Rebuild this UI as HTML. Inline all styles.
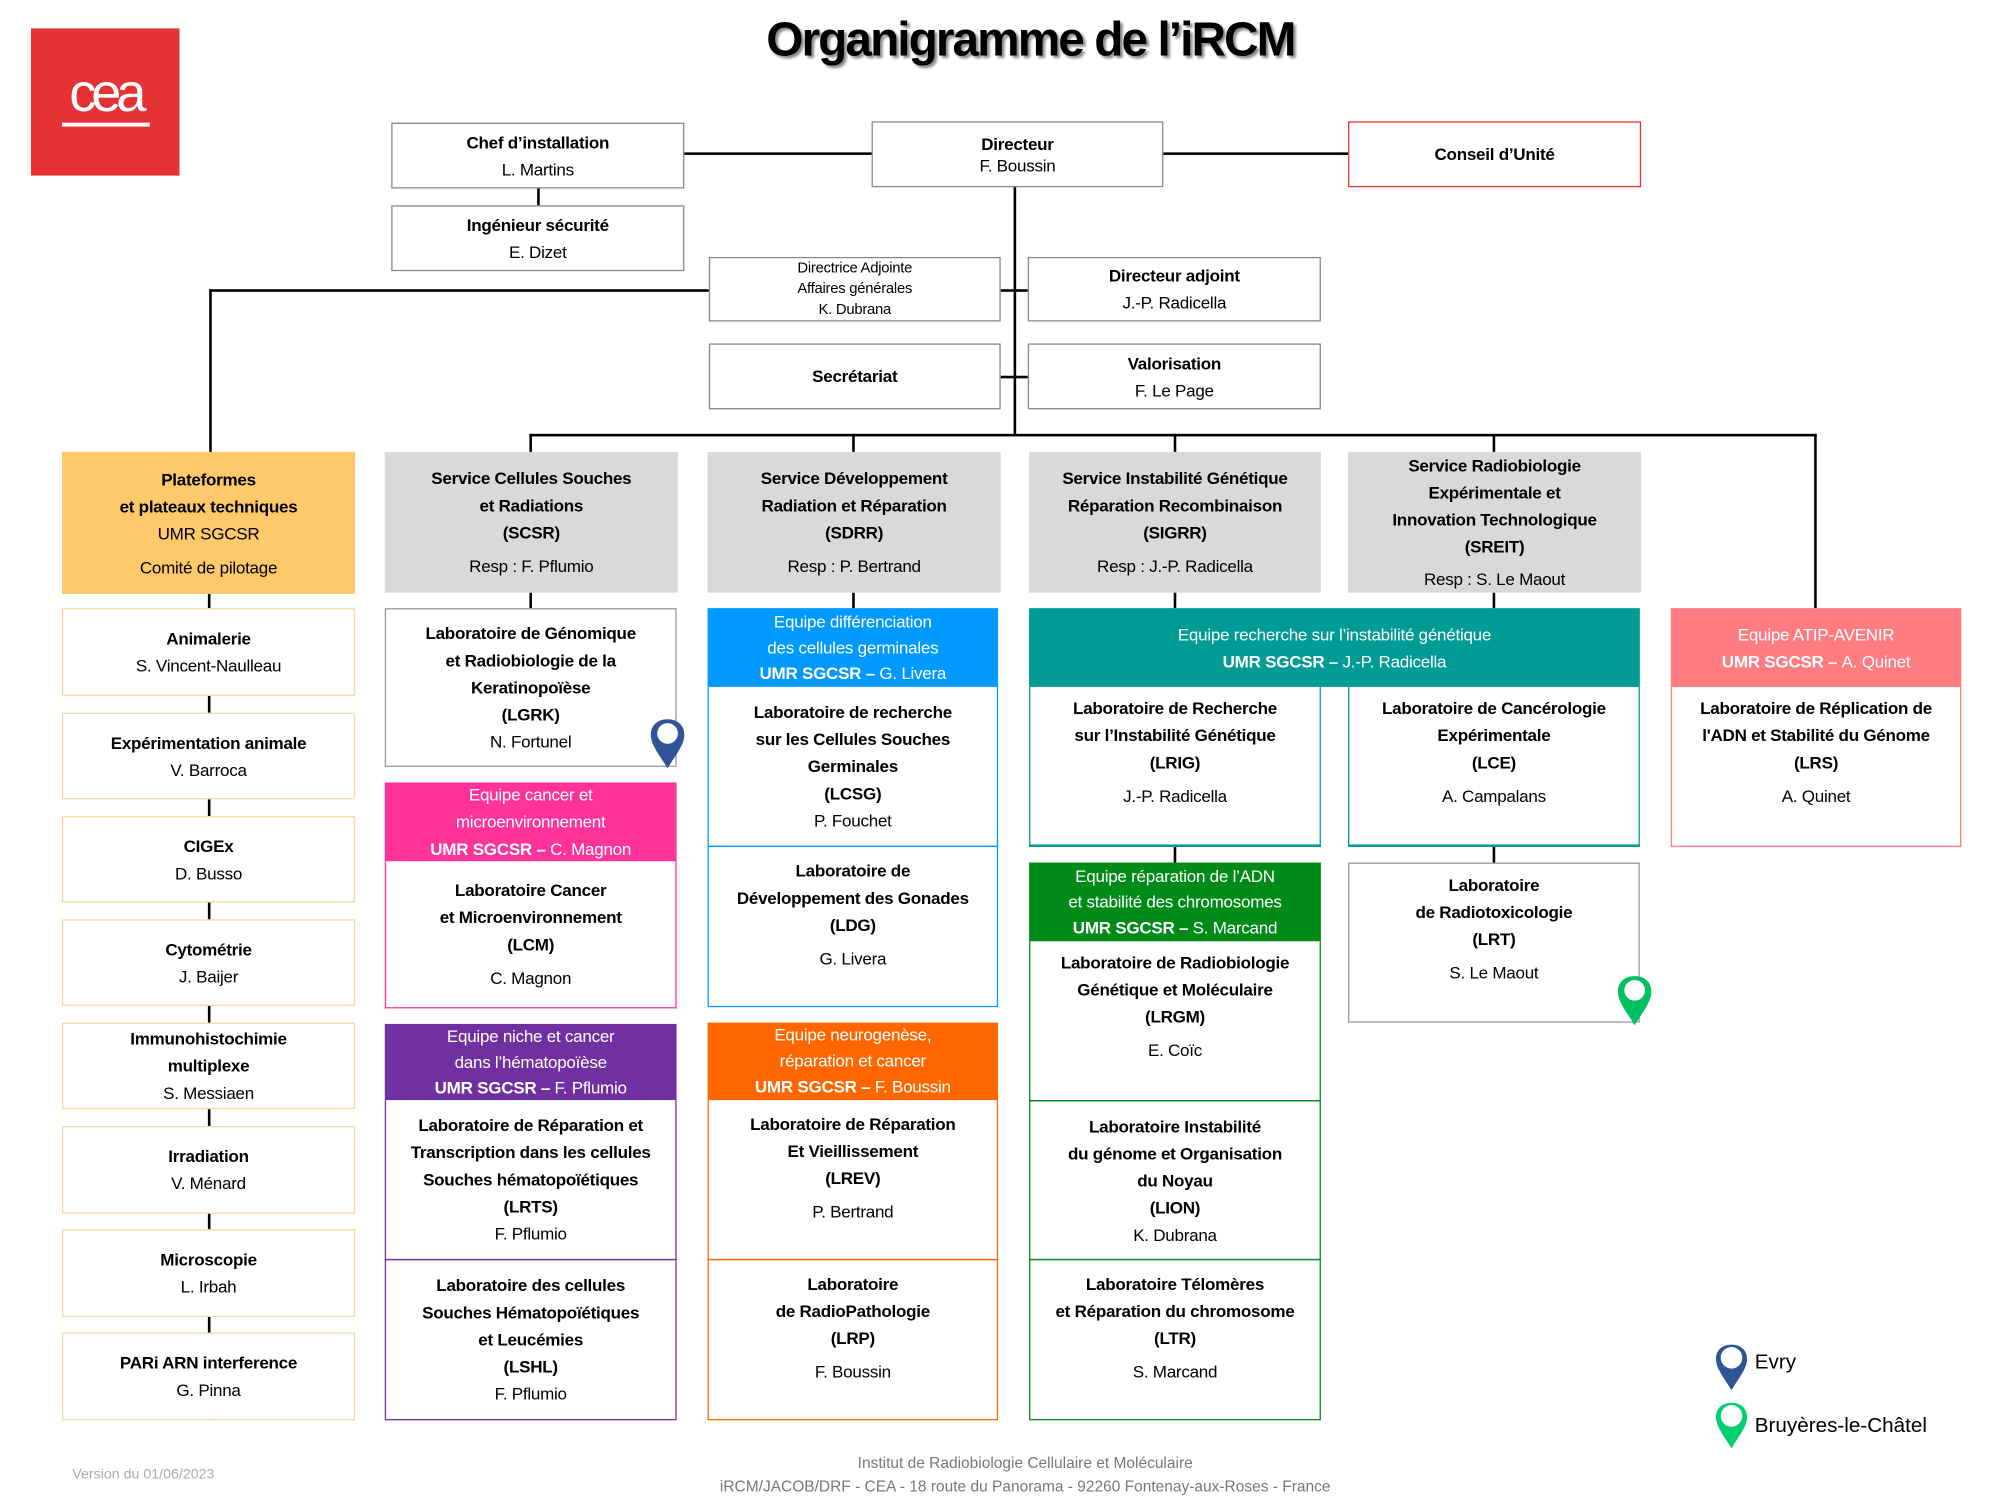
<!DOCTYPE html>
<html><head><meta charset="utf-8"><style>
html,body{margin:0;padding:0;background:#fff;}
body{width:2000px;height:1500px;overflow:hidden;position:relative;}
#s{position:absolute;left:0;top:0;width:1549px;height:1162px;transform:scale(1.2912);transform-origin:0 0;font-family:"Liberation Sans",sans-serif;}
.b{position:absolute;box-sizing:border-box;display:flex;flex-direction:column;justify-content:center;align-items:center;text-align:center;font-size:13.2px;line-height:21px;color:#000;letter-spacing:-0.2px;}
.k{font-weight:bold;}
.l{position:absolute;background:#000;}
.g{background:#d9d9d9;}
.w{color:#fff;}
.gap{height:5px;}
</style></head><body><div id="s">
<div style="position:absolute;left:24px;top:22px;width:115px;height:114px;background:#e63234;"></div>
<div style="position:absolute;left:24px;top:48px;width:115px;text-align:center;color:#fff;font-size:42px;letter-spacing:-4px;font-family:'Liberation Sans',sans-serif;">cea</div>
<div style="position:absolute;left:48px;top:95px;width:68px;height:3px;background:#fff;"></div>
<div style="position:absolute;left:500px;top:10px;width:596px;text-align:center;font-size:37px;font-weight:bold;letter-spacing:-1.5px;text-shadow:2px 2px 2px #888;">Organigramme de l’iRCM</div>

<!-- lines -->
<div class="l" style="left:530px;top:118px;width:145px;height:2px"></div>
<div class="l" style="left:901px;top:118px;width:143px;height:2px"></div>
<div class="l" style="left:785px;top:145px;width:2px;height:193px"></div>
<div class="l" style="left:416px;top:146px;width:2px;height:13px"></div>
<div class="l" style="left:162px;top:224px;width:387px;height:2px"></div>
<div class="l" style="left:162px;top:224px;width:2px;height:126px"></div>
<div class="l" style="left:775px;top:224px;width:21px;height:2px"></div>
<div class="l" style="left:775px;top:291px;width:21px;height:2px"></div>
<div class="l" style="left:410px;top:336px;width:997px;height:2px"></div>
<div class="l" style="left:410px;top:336px;width:2px;height:14px"></div>
<div class="l" style="left:660px;top:336px;width:2px;height:14px"></div>
<div class="l" style="left:909px;top:336px;width:2px;height:14px"></div>
<div class="l" style="left:1156px;top:336px;width:2px;height:14px"></div>
<div class="l" style="left:1405px;top:336px;width:2px;height:135px"></div>
<div class="l" style="left:161px;top:460px;width:2px;height:640px"></div>
<div class="l" style="left:410px;top:459px;width:2px;height:12px"></div>
<div class="l" style="left:660px;top:459px;width:2px;height:12px"></div>
<div class="l" style="left:909px;top:459px;width:2px;height:12px"></div>
<div class="l" style="left:1156px;top:459px;width:2px;height:12px"></div>
<div class="l" style="left:909px;top:655px;width:2px;height:13px"></div>
<div class="l" style="left:1156px;top:655px;width:2px;height:13px"></div>

<!-- top boxes -->
<div class="b" style="left:303px;top:95px;width:227px;height:51px;border:1px solid #888;"><span class="k">Chef d’installation</span><span>L. Martins</span></div>
<div class="b" style="left:303px;top:159px;width:227px;height:51px;border:1px solid #888;"><span class="k">Ingénieur sécurité</span><span>E. Dizet</span></div>
<div class="b" style="left:675px;top:94px;width:226px;height:51px;border:1px solid #888;line-height:17px;"><span class="k">Directeur</span><span>F. Boussin</span></div>
<div class="b" style="left:1044px;top:94px;width:227px;height:51px;border:1px solid #e63234;"><span class="k">Conseil d’Unité</span></div>
<div class="b" style="left:549px;top:199px;width:226px;height:50px;border:1px solid #888;font-size:11.5px;line-height:16px;"><span>Directrice Adjointe</span><span>Affaires générales</span><span>K. Dubrana</span></div>
<div class="b" style="left:796px;top:199px;width:227px;height:50px;border:1px solid #888;"><span class="k">Directeur adjoint</span><span>J.-P. Radicella</span></div>
<div class="b" style="left:549px;top:266px;width:226px;height:51px;border:1px solid #888;"><span class="k">Secrétariat</span></div>
<div class="b" style="left:796px;top:266px;width:227px;height:51px;border:1px solid #888;"><span class="k">Valorisation</span><span>F. Le Page</span></div>

<!-- col1 -->
<div class="b k" style="left:48px;top:350px;width:227px;height:110px;background:#fdc96a;"><span>Plateformes</span><span>et plateaux techniques</span><span style="font-weight:normal">UMR SGCSR</span><span class="gap"></span><span style="font-weight:normal">Comité de pilotage</span></div>
<div class="b" style="left:48px;top:471px;width:227px;height:68px;border:1px solid #f8d9a0;background:#fff;"><span class="k">Animalerie</span><span>S. Vincent-Naulleau</span></div>
<div class="b" style="left:48px;top:552px;width:227px;height:67px;border:1px solid #f8d9a0;background:#fff;"><span class="k">Expérimentation animale</span><span>V. Barroca</span></div>
<div class="b" style="left:48px;top:632px;width:227px;height:67px;border:1px solid #f8d9a0;background:#fff;"><span class="k">CIGEx</span><span>D. Busso</span></div>
<div class="b" style="left:48px;top:712px;width:227px;height:67px;border:1px solid #f8d9a0;background:#fff;"><span class="k">Cytométrie</span><span>J. Baijer</span></div>
<div class="b" style="left:48px;top:792px;width:227px;height:67px;border:1px solid #f8d9a0;background:#fff;"><span class="k">Immunohistochimie</span><span class="k">multiplexe</span><span>S. Messiaen</span></div>
<div class="b" style="left:48px;top:872px;width:227px;height:68px;border:1px solid #f8d9a0;background:#fff;"><span class="k">Irradiation</span><span>V. Ménard</span></div>
<div class="b" style="left:48px;top:952px;width:227px;height:68px;border:1px solid #f8d9a0;background:#fff;"><span class="k">Microscopie</span><span>L. Irbah</span></div>
<div class="b" style="left:48px;top:1032px;width:227px;height:68px;border:1px solid #f8d9a0;background:#fff;"><span class="k">PARi ARN interference</span><span>G. Pinna</span></div>

<!-- col2 -->
<div class="b g k" style="left:298px;top:350px;width:227px;height:109px;"><span>Service Cellules Souches</span><span>et Radiations</span><span>(SCSR)</span><span class="gap"></span><span style="font-weight:normal">Resp : F. Pflumio</span></div>
<div class="b" style="left:298px;top:471px;width:226px;height:123px;border:1px solid #999;"><span class="k">Laboratoire de Génomique</span><span class="k">et Radiobiologie de la</span><span class="k">Keratinopoïèse</span><span class="k">(LGRK)</span><span>N. Fortunel</span></div>
<div class="b w" style="left:298px;top:606px;width:226px;height:61px;background:#ff3399;"><span>Equipe cancer et</span><span>microenvironnement</span><span class="k">UMR SGCSR – <span style="font-weight:normal">C. Magnon</span></span></div>
<div class="b" style="left:298px;top:667px;width:226px;height:114px;border:1px solid #ff3399;border-top:none;"><span class="k">Laboratoire Cancer</span><span class="k">et Microenvironnement</span><span class="k">(LCM)</span><span class="gap"></span><span>C. Magnon</span></div>
<div class="b w" style="left:298px;top:793px;width:226px;height:59px;background:#7030a0;line-height:20px;"><span>Equipe niche et cancer</span><span>dans l’hématopoïèse</span><span class="k">UMR SGCSR – <span style="font-weight:normal">F. Pflumio</span></span></div>
<div class="b" style="left:298px;top:852px;width:226px;height:124px;border:1px solid #7030a0;border-top:none;"><span class="k">Laboratoire de Réparation et</span><span class="k">Transcription dans les cellules</span><span class="k">Souches hématopoïétiques</span><span class="k">(LRTS)</span><span>F. Pflumio</span></div>
<div class="b" style="left:298px;top:975px;width:226px;height:125px;border:1px solid #7030a0;"><span class="k">Laboratoire des cellules</span><span class="k">Souches Hématopoïétiques</span><span class="k">et Leucémies</span><span class="k">(LSHL)</span><span>F. Pflumio</span></div>

<!-- col3 -->
<div class="b g k" style="left:548px;top:350px;width:227px;height:109px;"><span>Service Développement</span><span>Radiation et Réparation</span><span>(SDRR)</span><span class="gap"></span><span style="font-weight:normal">Resp : P. Bertrand</span></div>
<div class="b w" style="left:548px;top:471px;width:225px;height:61px;background:#0099ff;line-height:20px;"><span>Equipe différenciation</span><span>des cellules germinales</span><span class="k">UMR SGCSR – <span style="font-weight:normal">G. Livera</span></span></div>
<div class="b" style="left:548px;top:532px;width:225px;height:124px;border:1px solid #0099ff;border-top:none;"><span class="k">Laboratoire de recherche</span><span class="k">sur les Cellules Souches</span><span class="k">Germinales</span><span class="k">(LCSG)</span><span>P. Fouchet</span></div>
<div class="b" style="left:548px;top:655px;width:225px;height:125px;border:1px solid #0099ff;justify-content:flex-start;padding-top:8px;"><span class="k">Laboratoire de</span><span class="k">Développement des Gonades</span><span class="k">(LDG)</span><span class="gap"></span><span>G. Livera</span></div>
<div class="b w" style="left:548px;top:792px;width:225px;height:60px;background:#ff6600;line-height:20px;"><span>Equipe neurogenèse,</span><span>réparation et cancer</span><span class="k">UMR SGCSR – <span style="font-weight:normal">F. Boussin</span></span></div>
<div class="b" style="left:548px;top:852px;width:225px;height:124px;border:1px solid #ff6600;border-top:none;justify-content:flex-start;padding-top:8px;"><span class="k">Laboratoire de Réparation</span><span class="k">Et Vieillissement</span><span class="k">(LREV)</span><span class="gap"></span><span>P. Bertrand</span></div>
<div class="b" style="left:548px;top:975px;width:225px;height:125px;border:1px solid #ff6600;justify-content:flex-start;padding-top:8px;"><span class="k">Laboratoire</span><span class="k">de RadioPathologie</span><span class="k">(LRP)</span><span class="gap"></span><span>F. Boussin</span></div>

<!-- col4 -->
<div class="b g k" style="left:797px;top:350px;width:226px;height:109px;"><span>Service Instabilité Génétique</span><span>Réparation Recombinaison</span><span>(SIGRR)</span><span class="gap"></span><span style="font-weight:normal">Resp : J.-P. Radicella</span></div>
<div class="b w" style="left:797px;top:471px;width:473px;height:61px;background:#009b95;"><span>Equipe recherche sur l’instabilité génétique</span><span class="k">UMR SGCSR – <span style="font-weight:normal">J.-P. Radicella</span></span></div>
<div class="b" style="left:797px;top:532px;width:226px;height:124px;border:1px solid #009b95;border-top:none;border-bottom-width:2px;justify-content:flex-start;padding-top:6px;"><span class="k">Laboratoire de Recherche</span><span class="k">sur l’Instabilité Génétique</span><span class="k">(LRIG)</span><span class="gap"></span><span>J.-P. Radicella</span></div>
<div class="b" style="left:1044px;top:532px;width:226px;height:124px;border:1px solid #009b95;border-top:none;border-bottom-width:2px;justify-content:flex-start;padding-top:6px;"><span class="k">Laboratoire de Cancérologie</span><span class="k">Expérimentale</span><span class="k">(LCE)</span><span class="gap"></span><span>A. Campalans</span></div>
<div class="b w" style="left:797px;top:668px;width:226px;height:61px;background:#008a17;line-height:20px;"><span>Equipe réparation de l’ADN</span><span>et stabilité des chromosomes</span><span class="k">UMR SGCSR – <span style="font-weight:normal">S. Marcand</span></span></div>
<div class="b" style="left:797px;top:729px;width:226px;height:124px;border:1px solid #008a17;border-top:none;justify-content:flex-start;padding-top:6px;"><span class="k">Laboratoire de Radiobiologie</span><span class="k">Génétique et Moléculaire</span><span class="k">(LRGM)</span><span class="gap"></span><span>E. Coïc</span></div>
<div class="b" style="left:797px;top:852px;width:226px;height:124px;border:1px solid #008a17;"><span class="k">Laboratoire Instabilité</span><span class="k">du génome et Organisation</span><span class="k">du Noyau</span><span class="k">(LION)</span><span>K. Dubrana</span></div>
<div class="b" style="left:797px;top:975px;width:226px;height:125px;border:1px solid #008a17;justify-content:flex-start;padding-top:8px;"><span class="k">Laboratoire Télomères</span><span class="k">et Réparation du chromosome</span><span class="k">(LTR)</span><span class="gap"></span><span>S. Marcand</span></div>

<!-- col5 -->
<div class="b g k" style="left:1044px;top:350px;width:227px;height:109px;"><span>Service Radiobiologie</span><span>Expérimentale et</span><span>Innovation Technologique</span><span>(SREIT)</span><span class="gap"></span><span style="font-weight:normal">Resp : S. Le Maout</span></div>
<div class="b" style="left:1044px;top:668px;width:226px;height:124px;border:1px solid #999;justify-content:flex-start;padding-top:6px;"><span class="k">Laboratoire</span><span class="k">de Radiotoxicologie</span><span class="k">(LRT)</span><span class="gap"></span><span>S. Le Maout</span></div>

<!-- col6 -->
<div class="b w" style="left:1294px;top:471px;width:225px;height:61px;background:#ff7c80;"><span>Equipe ATIP-AVENIR</span><span class="k">UMR SGCSR – <span style="font-weight:normal">A. Quinet</span></span></div>
<div class="b" style="left:1294px;top:532px;width:225px;height:124px;border:1px solid #ff7c80;border-top:none;justify-content:flex-start;padding-top:6px;"><span class="k">Laboratoire de Réplication de</span><span class="k">l'ADN et Stabilité du Génome</span><span class="k">(LRS)</span><span class="gap"></span><span>A. Quinet</span></div>

<!-- pins -->
<svg style="position:absolute;left:503px;top:556px" width="28" height="40" viewBox="0 0 28 40"><path d="M14 1C6 1 1 6 1 13c0 8 7 16 13 26 6-10 13-18 13-26C27 6 22 1 14 1z" fill="#2f5597"/><ellipse cx="14" cy="12" rx="8" ry="8" fill="#fff"/></svg>
<svg style="position:absolute;left:1252px;top:755px" width="28" height="40" viewBox="0 0 28 40"><path d="M14 1C6 1 1 6 1 13c0 8 7 16 13 26 6-10 13-18 13-26C27 6 22 1 14 1z" fill="#00c060"/><ellipse cx="14" cy="12" rx="8" ry="8" fill="#fff"/></svg>
<svg style="position:absolute;left:1328px;top:1040px" width="26" height="38" viewBox="0 0 28 40"><path d="M14 1C6 1 1 6 1 13c0 8 7 16 13 26 6-10 13-18 13-26C27 6 22 1 14 1z" fill="#2f5597"/><ellipse cx="14" cy="12" rx="9" ry="9" fill="#fff"/></svg>
<svg style="position:absolute;left:1328px;top:1085px" width="26" height="38" viewBox="0 0 28 40"><path d="M14 1C6 1 1 6 1 13c0 8 7 16 13 26 6-10 13-18 13-26C27 6 22 1 14 1z" fill="#00d070"/><ellipse cx="14" cy="12" rx="9" ry="9" fill="#fff"/></svg>
<div style="position:absolute;left:1359px;top:1047px;font-size:16px;">Evry</div>
<div style="position:absolute;left:1359px;top:1096px;font-size:16px;">Bruyères-le-Châtel</div>

<div style="position:absolute;left:56px;top:1136px;font-size:11px;color:#aaa;">Version du 01/06/2023</div>
<div style="position:absolute;left:494px;top:1124px;width:600px;text-align:center;font-size:12px;line-height:18px;color:#777;">Institut de Radiobiologie Cellulaire et Moléculaire<br>iRCM/JACOB/DRF - CEA - 18 route du Panorama - 92260 Fontenay-aux-Roses - France</div>
</div></body></html>
